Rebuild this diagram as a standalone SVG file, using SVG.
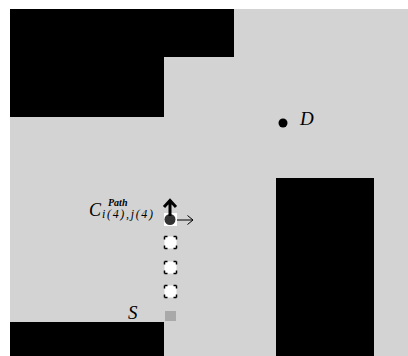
<svg xmlns="http://www.w3.org/2000/svg" width="408" height="356" viewBox="0 0 408 356">
<style>
.obs{fill:#000}
.lbl{font-family:"Liberation Serif",serif;font-style:italic;fill:#000}
.cell{fill:#fff;stroke:#000;stroke-width:1.5;stroke-dasharray:3 6 3 0}
</style>
<rect x="0" y="0" width="408" height="356" fill="#fff"/>
<rect x="10" y="9" width="398" height="347" fill="#d3d3d3"/>
<g id="obstacles">
<path class="obs" d="M10 9H234V57H164V117H10Z"/>
<rect class="obs" x="10" y="322" width="154" height="34"/>
<rect class="obs" x="276" y="178" width="98" height="178"/>
</g>
<g id="goal">
<circle cx="283" cy="123" r="4.5" fill="#000"/>
<text class="lbl" x="300" y="125" font-size="19">D</text>
</g>
<g id="start">
<rect x="165" y="311" width="11" height="10" fill="#a9a9a9"/>
<text class="lbl" x="128" y="319" font-size="19">S</text>
</g>
<g id="path-cells">
<rect class="cell" x="164.5" y="236.5" width="12" height="12"/>
<rect class="cell" x="164.5" y="261.5" width="12" height="12"/>
<rect class="cell" x="164.5" y="285.5" width="12" height="12"/>
</g>
<g id="current">
<rect x="164" y="213" width="13" height="13" fill="#fff"/>
<circle cx="170" cy="219.5" r="5.5" fill="#333"/>
<text class="lbl" x="89" y="216" font-size="18">C</text>
<text class="lbl" x="108" y="206" font-size="10" font-weight="bold">Path</text>
<text class="lbl" x="102" y="218" font-size="12" textLength="51">i(4),j(4)</text>
</g>
<g id="connectors" fill="none" stroke="#000">
<path d="M170 216V202M164 207L170 200.5L176 207" stroke-width="3"/>
<path d="M177 220H193M187.5 215.5L193 220L187.5 224.5" stroke-width="1"/>
</g>
</svg>
